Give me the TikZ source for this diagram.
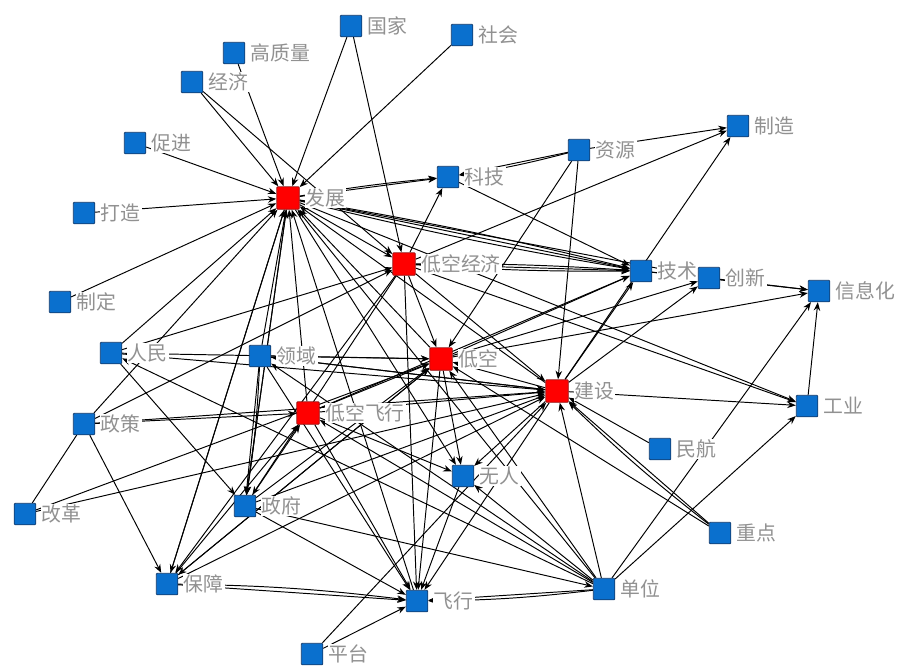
\documentclass[tikz,border=0pt]{standalone}
\usepackage{fontspec}
\newfontfamily\cjk{Noto Sans CJK SC}
\usepackage{tikz}
\usetikzlibrary{arrows.meta}
\definecolor{sqblue}{RGB}{10,112,206}
\definecolor{sqblueline}{RGB}{20,60,110}
\definecolor{sqredline}{RGB}{150,20,20}
\definecolor{wordgray}{RGB}{145,145,145}
\tikzstyle{bluedot}=[rectangle,rounded corners=0.5pt,draw=sqblueline,fill=sqblue,
                     line width=0.5pt,inner sep=0pt,minimum size=4.3mm]
\tikzstyle{reddot}=[rectangle,rounded corners=0.5pt,draw=sqredline,fill=red,
                    line width=0.5pt,inner sep=0pt,minimum size=4.5mm]
\tikzstyle{word}=[fill=white,inner sep=0.5pt,text=wordgray,
                  font=\cjk\fontsize{11.3}{12}\selectfont]
\tikzstyle{arc}=[line width=0.55pt,-{Stealth[length=1.7mm,width=1.3mm]}]
\pgfdeclarelayer{edges}
\pgfsetlayers{edges,main}

\begin{document}
\begin{tikzpicture}[x=0.2mm,y=-0.2mm,label distance=0.9mm]
    \useasboundingbox (0,0) rectangle (906,669);
    % outer words
    \node (gj)   at (351, 26) [bluedot,label={[word]right:国家}]{};
    \node (sh)   at (462, 35) [bluedot,label={[word]right:社会}]{};
    \node (gzl)  at (234, 53) [bluedot,label={[word]right:高质量}]{};
    \node (jj)   at (192, 82) [bluedot,label={[word]right:经济}]{};
    \node (cj)   at (135,143) [bluedot,label={[word]right:促进}]{};
    \node (dz)   at ( 84,213) [bluedot,label={[word]right:打造}]{};
    \node (zd)   at ( 60,302) [bluedot,label={[word]right:制定}]{};
    \node (kj)   at (448,177) [bluedot,label={[word]right:科技}]{};
    \node (zy)   at (579,150) [bluedot,label={[word]right:资源}]{};
    \node (zz)   at (738,126) [bluedot,label={[word]right:制造}]{};
    \node (js)   at (641,271) [bluedot,label={[word]right:技术}]{};
    \node (cx)   at (709,278) [bluedot,label={[word]right:创新}]{};
    \node (xxh)  at (819,291) [bluedot,label={[word]right:信息化}]{};
    \node (gy)   at (807,406) [bluedot,label={[word]right:工业}]{};
    \node (rm)   at (111,353) [bluedot,label={[word]right:人民}]{};
    \node (ly)   at (260,356) [bluedot,label={[word]right:领域}]{};
    \node (zc)   at ( 84,424) [bluedot,label={[word]right:政策}]{};
    \node (gg)   at ( 25,514) [bluedot,label={[word]right:改革}]{};
    \node (zf)   at (245,506) [bluedot,label={[word]right:政府}]{};
    \node (bz)   at (167,584) [bluedot,label={[word]right:保障}]{};
    \node (fx)   at (417,601) [bluedot,label={[word]right:飞行}]{};
    \node (pt)   at (312,654) [bluedot,label={[word]right:平台}]{};
    \node (wr)   at (463,476) [bluedot,label={[word]right:无人}]{};
    \node (mh)   at (660,449) [bluedot,label={[word]right:民航}]{};
    \node (zdn)  at (720,533) [bluedot,label={[word]right:重点}]{};
    \node (dw)   at (604,589) [bluedot,label={[word]right:单位}]{};
    % core words
    \node (fz)   at (288,198) [reddot,label={[word]right:发展}]{};
    \node (dkjj) at (404,264) [reddot,label={[word]right:低空经济}]{};
    \node (dk)   at (441,359) [reddot,label={[word]right:低空}]{};
    \node (jsh)  at (557,391) [reddot,label={[word]right:建设}]{};
    \node (dkfx) at (308,413) [reddot,label={[word]right:低空飞行}]{};

    \begin{pgfonlayer}{edges}
    % co-occurrence arcs
    \foreach \a/\b in {cj/fz,dz/fz,zd/fz,jj/fz,gzl/fz,gj/fz,gj/dkjj,sh/fz,
        jj/dkjj,rm/fz,zc/fz,ly/fz,zf/fz,fz/zf,fz/bz,bz/fz,dkfx/fz,dk/fz,
        jsh/fz,dw/fz,fx/fz,fz/wr,fz/kj,fz/js,fz/dkjj,fz/gy,fz/cx,
        dkjj/js,dkjj/zz,dkjj/kj,dkjj/dk,dkjj/jsh,dkjj/gy,dkjj/zf,dkjj/bz,
        dkjj/fx,rm/dkjj,zc/dkjj,zy/kj,zy/zz,zy/jsh,zy/dk,kj/js,js/cx,
        cx/xxh,js/xxh,dk/js,dk/cx,dk/xxh,jsh/js,jsh/cx,jsh/zz,jsh/gy,
        gy/xxh,dw/xxh,dw/gy,mh/jsh,zdn/jsh,zdn/dk,dw/jsh,dw/dk,dw/dkfx,
        dw/fx,zf/dw,dw/ly,dw/rm,rm/zf,rm/dk,rm/jsh,ly/dk,ly/jsh,ly/zf,
        ly/fx,zc/bz,zc/dkfx,zc/jsh,gg/jsh,gg/dk,dkfx/dk,dkfx/jsh,
        dkfx/fx,bz/dkfx,zf/dkfx,dkfx/js,bz/dk,bz/jsh,bz/fx,zf/dk,zf/jsh,
        zf/fx,dk/wr,dk/fx,jsh/dk,jsh/fx,wr/fx,pt/fx,pt/jsh,dw/wr,
        dkfx/wr,jsh/wr,dk/bz,jsh/ly}
      \draw[arc] (\a) -- (\b);
    \draw[line width=0.55pt] (zc) -- (gg);
    % doubled arcs
    \draw[arc] (fz) to[bend left=2] (kj);
    \draw[arc] (fz) to[bend left=2] (js);
    \draw[arc] (fz) to[bend right=2] (js);
    \draw[arc] (dkjj) to[bend left=2] (js);
    \draw[arc] (dkjj) to[bend right=2] (js);
    \draw[arc] (ly) to[bend left=3] (zf);
    \draw[arc] (dw) to[bend left=3] (fx);
    \draw[arc] (bz) to[bend left=3] (fx);
    \draw[arc] (zdn) to[bend left=3] (jsh);
    \draw[arc] (zy) to[bend left=3] (kj);
    \end{pgfonlayer}
\end{tikzpicture}
\end{document}
